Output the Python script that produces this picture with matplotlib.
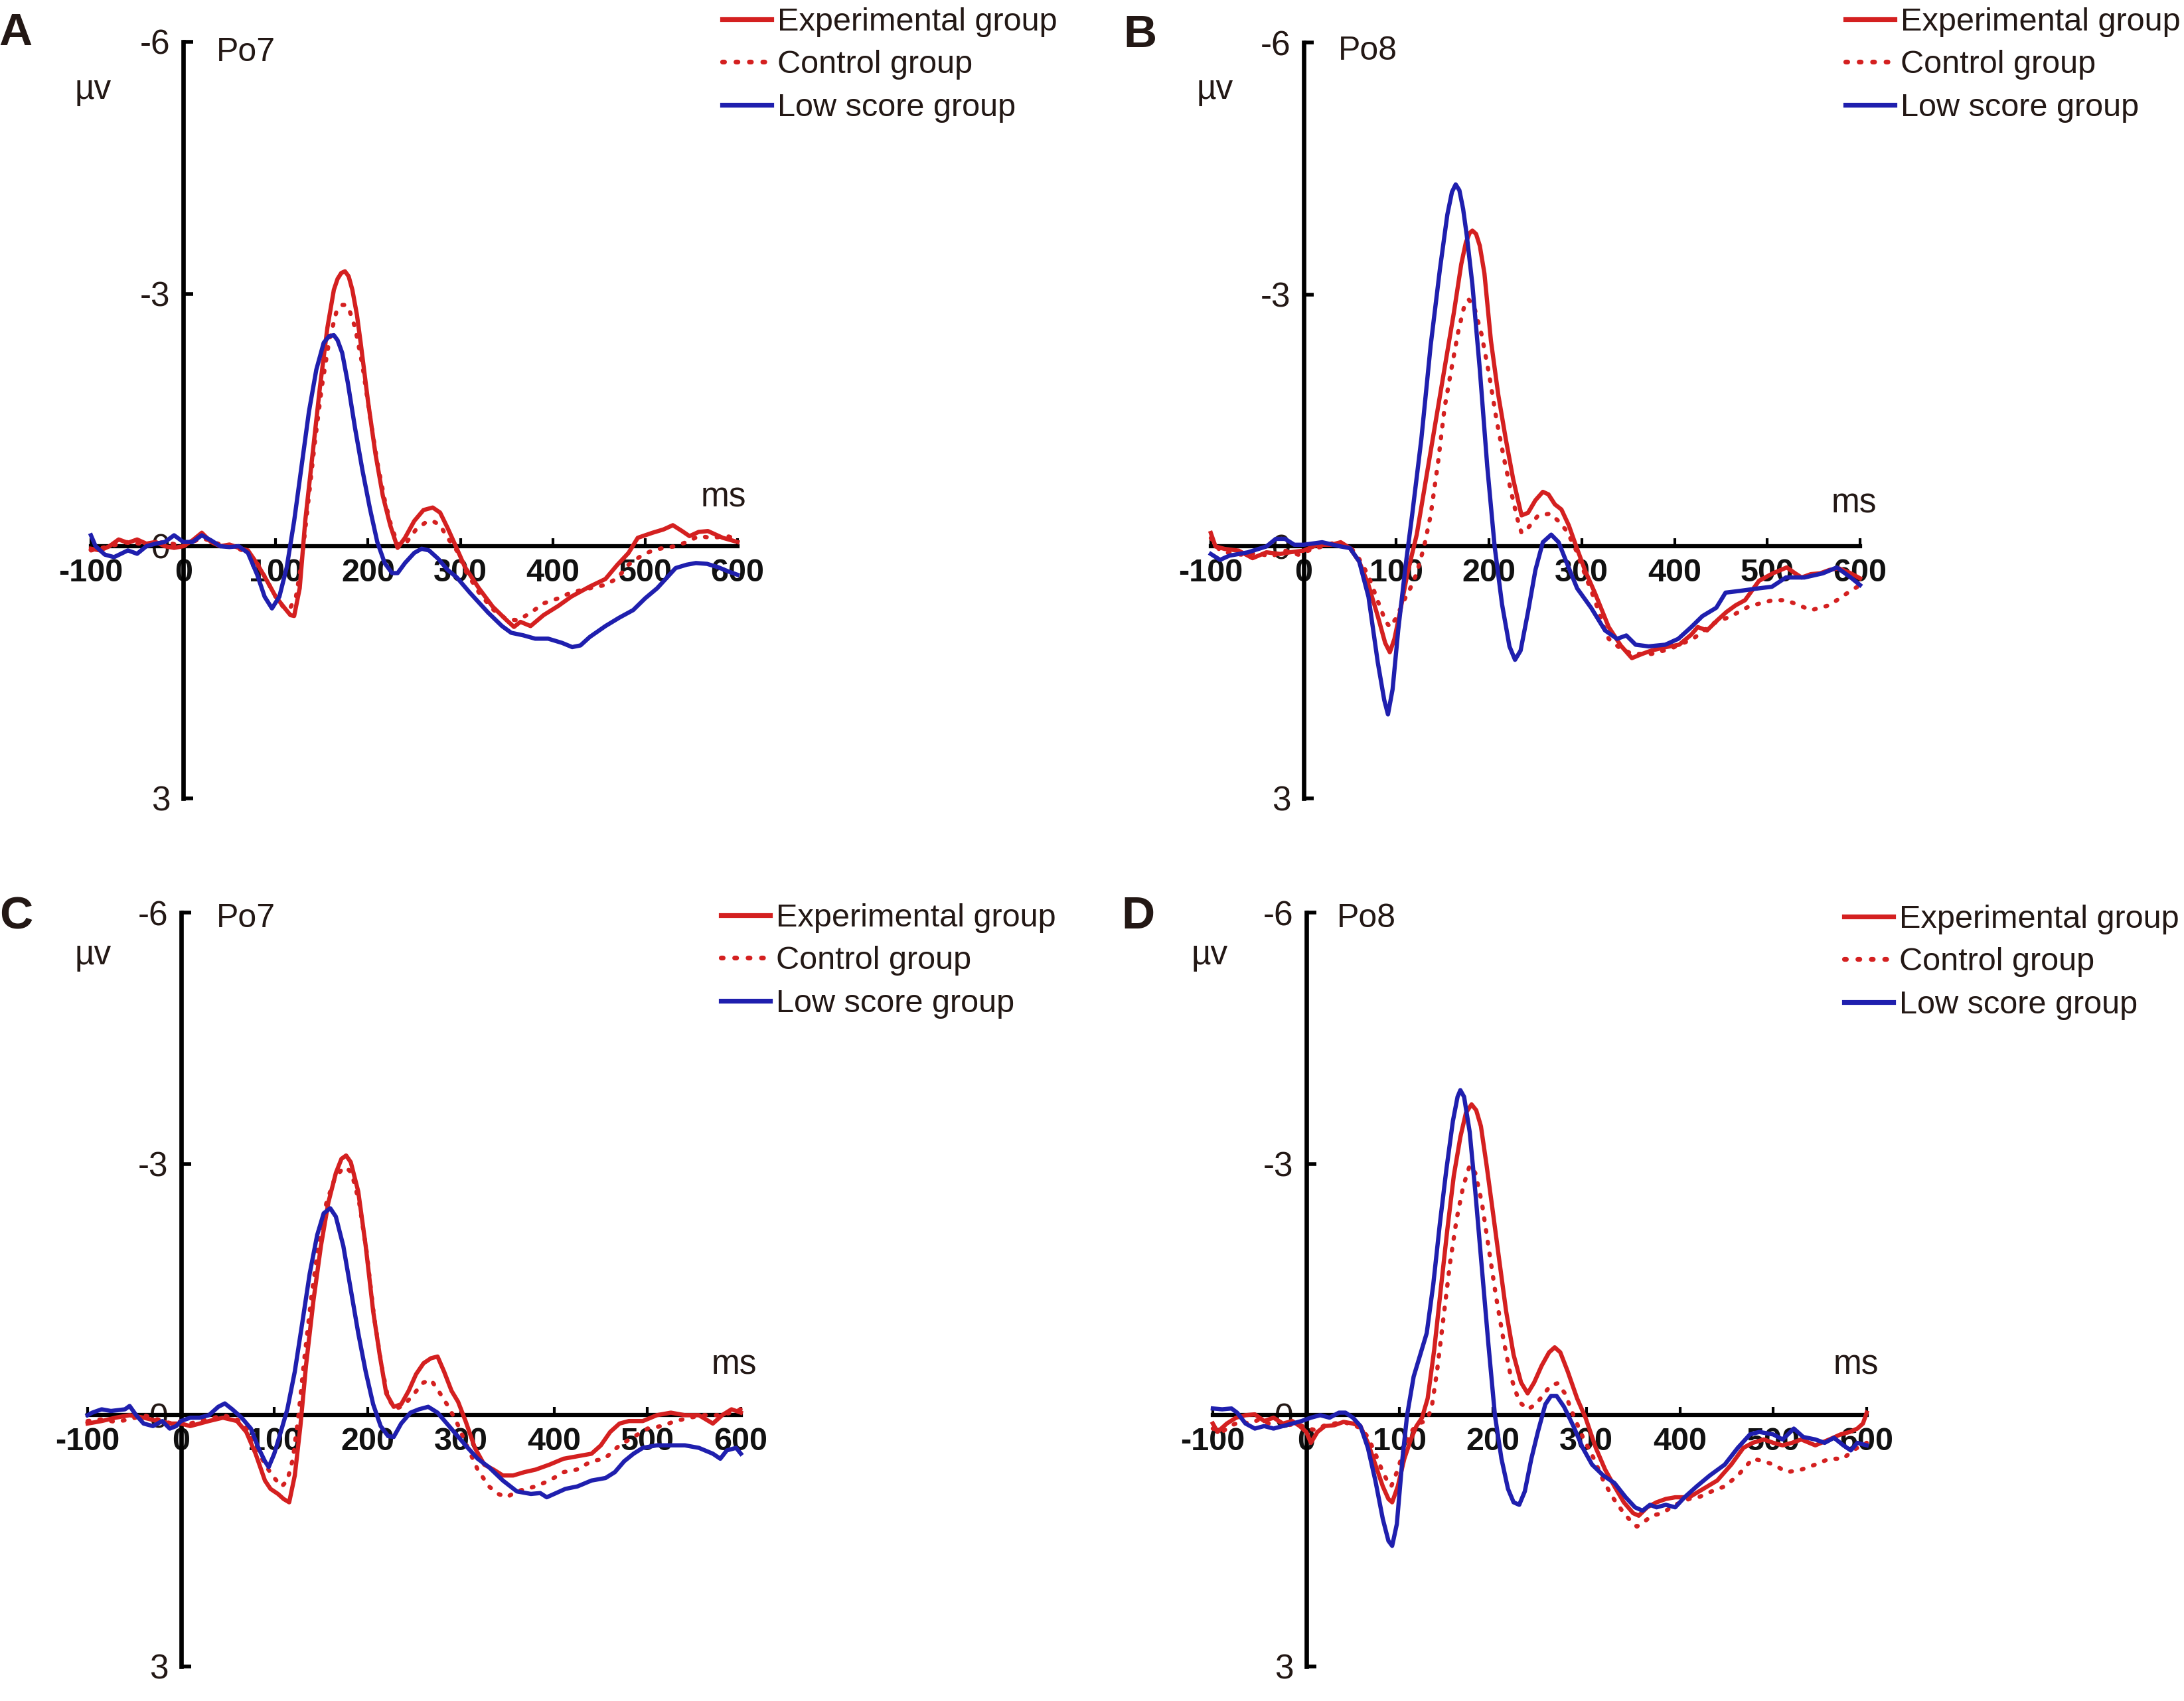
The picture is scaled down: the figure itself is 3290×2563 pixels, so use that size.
import matplotlib
matplotlib.use("Agg")
from matplotlib import pyplot as plt
import numpy as np

# Размер картинки в пикселях
W, H = 3291, 2563

RED = '#d42020'
BLUE = '#1f1fae'
INK = '#231815'

plt.rcParams['font.family'] = ['Liberation Sans', 'DejaVu Sans']

TIME_TICKS = [-100, 0, 100, 200, 300, 400, 500, 600]
TIME_LABELS = ['-100', '0', '100', '200', '300', '400', '500', '600']
UV_TICKS = [-6, -3, 0, 3]
UV_LABELS = ['-6', '-3', '0', '3']
GROUPS = ['Experimental group', 'Control group', 'Low score group']

# (ms, µV)
A_EXP = [(-100, 0.03), (-90, 0.05), (-80, 0.0), (-70, -0.08), (-60, -0.04), (-50, -0.08), (-40, -0.03),
         (-30, -0.05), (-20, 0.0), (-10, 0.02), (0, 0.0), (10, -0.07), (20, -0.16), (30, -0.05), (40, 0.0),
         (50, -0.02), (60, 0.02), (70, 0.05), (80, 0.21), (90, 0.4), (100, 0.6), (110, 0.74), (116, 0.82),
         (120, 0.83), (126, 0.5), (132, -0.3), (140, -1.1), (148, -1.9), (156, -2.6), (163, -3.05), (167, -3.18),
         (171, -3.25), (175, -3.27), (179, -3.21), (183, -3.05), (188, -2.75), (192, -2.42), (200, -1.72),
         (208, -1.1), (216, -0.6), (224, -0.25), (232, 0.02), (240, -0.1), (250, -0.3), (260, -0.43), (270, -0.46),
         (278, -0.4), (286, -0.22), (295, 0.0), (305, 0.25), (320, 0.5), (335, 0.72), (350, 0.88), (358, 0.96),
         (365, 0.9), (376, 0.95), (390, 0.82), (406, 0.71), (420, 0.6), (440, 0.48), (457, 0.39), (470, 0.22),
         (482, 0.08), (492, -0.1), (508, -0.16), (520, -0.2), (530, -0.25), (540, -0.18), (548, -0.12),
         (558, -0.17), (568, -0.18), (584, -0.1), (600, -0.05)]
A_CTL = [(-100, 0.05), (-80, 0.0), (-60, -0.05), (-40, -0.02), (-20, -0.05), (0, 0.0), (20, -0.1), (40, -0.02),
         (60, 0.03), (70, 0.08), (80, 0.2), (90, 0.4), (100, 0.6), (108, 0.72), (115, 0.75), (122, 0.6),
         (128, 0.2), (134, -0.4), (142, -1.2), (150, -1.9), (158, -2.45), (166, -2.8), (172, -2.87), (176, -2.87),
         (180, -2.8), (186, -2.6), (194, -2.15), (202, -1.55), (210, -1.0), (218, -0.55), (226, -0.2), (234, 0.0),
         (242, -0.05), (252, -0.2), (262, -0.28), (270, -0.3), (278, -0.25), (286, -0.1), (296, 0.05),
         (306, 0.3), (320, 0.55), (335, 0.75), (350, 0.87), (362, 0.88), (375, 0.8), (390, 0.68), (406, 0.62),
         (420, 0.55), (440, 0.5), (457, 0.46), (470, 0.38), (482, 0.22), (495, 0.12), (508, 0.05), (520, 0.02),
         (533, 0.0), (545, -0.05), (558, -0.12), (572, -0.1), (589, -0.12), (600, -0.08)]
A_LOW = [(-100, -0.13), (-95, 0.0), (-85, 0.1), (-75, 0.13), (-60, 0.05), (-50, 0.09), (-40, 0.0), (-30, -0.03),
         (-20, -0.05), (-10, -0.13), (0, -0.05), (10, -0.05), (20, -0.13), (30, -0.07), (40, 0.0), (50, 0.01),
         (60, 0.0), (70, 0.08), (80, 0.34), (88, 0.6), (96, 0.74), (104, 0.6), (112, 0.25), (120, -0.3),
         (128, -0.95), (136, -1.6), (144, -2.1), (152, -2.42), (158, -2.5), (163, -2.51), (167, -2.45),
         (172, -2.3), (178, -1.95), (186, -1.4), (194, -0.9), (202, -0.45), (210, -0.05), (218, 0.2), (226, 0.32),
         (232, 0.32), (240, 0.2), (250, 0.08), (258, 0.03), (266, 0.05), (276, 0.15), (286, 0.28), (296, 0.37),
         (310, 0.55), (330, 0.79), (345, 0.95), (355, 1.03), (368, 1.06), (381, 1.1), (395, 1.1), (410, 1.15),
         (421, 1.2), (430, 1.18), (440, 1.08), (457, 0.95), (472, 0.85), (487, 0.76), (500, 0.62), (513, 0.5),
         (523, 0.38), (533, 0.26), (545, 0.22), (555, 0.2), (567, 0.21), (579, 0.25), (590, 0.3), (600, 0.34)]

B_EXP = [(-100, -0.16), (-95, 0.0), (-85, 0.03), (-70, 0.05), (-55, 0.14), (-40, 0.07), (-25, 0.09),
         (-15, 0.07), (0, 0.05), (15, -0.02), (30, -0.02), (40, -0.05), (50, 0.02), (60, 0.18), (70, 0.46),
         (80, 0.83), (88, 1.15), (93, 1.26), (98, 1.1), (104, 0.78), (112, 0.32), (122, -0.14), (132, -0.8),
         (142, -1.46), (152, -2.12), (162, -2.78), (170, -3.36), (175, -3.62), (179, -3.73), (182, -3.76),
         (186, -3.72), (190, -3.58), (195, -3.25), (202, -2.45), (210, -1.8), (218, -1.28), (226, -0.8),
         (235, -0.37), (242, -0.4), (250, -0.55), (258, -0.65), (264, -0.62), (271, -0.5), (278, -0.44),
         (286, -0.25), (294, 0.0), (304, 0.3), (314, 0.55), (329, 0.96), (342, 1.18), (354, 1.33), (365, 1.28),
         (375, 1.24), (390, 1.2), (405, 1.17), (418, 1.05), (425, 0.96), (435, 1.0), (446, 0.88), (456, 0.78),
         (466, 0.7), (476, 0.64), (491, 0.41), (506, 0.32), (521, 0.25), (530, 0.32), (537, 0.37), (547, 0.33),
         (557, 0.32), (567, 0.28), (577, 0.26), (590, 0.32), (600, 0.38)]
B_CTL = [(-100, -0.1), (-90, 0.05), (-80, 0.08), (-65, 0.1), (-50, 0.08), (-35, 0.12), (-20, 0.05), (-5, 0.1),
         (5, 0.05), (20, 0.0), (35, -0.05), (50, 0.0), (60, 0.15), (70, 0.35), (80, 0.65), (88, 0.88), (93, 0.96),
         (100, 0.85), (108, 0.65), (115, 0.5), (122, 0.32), (130, 0.0), (137, -0.37), (145, -1.0), (152, -1.65),
         (160, -2.15), (167, -2.57), (173, -2.85), (178, -2.94), (184, -2.85), (192, -2.52), (200, -2.05),
         (208, -1.51), (216, -1.05), (223, -0.69), (230, -0.35), (235, -0.16), (242, -0.22), (253, -0.37),
         (266, -0.39), (275, -0.3), (284, -0.18), (294, 0.05), (304, 0.35), (314, 0.64), (322, 0.9), (329, 1.1),
         (340, 1.2), (354, 1.28), (375, 1.28), (395, 1.22), (420, 1.1), (441, 0.92), (461, 0.83), (481, 0.71),
         (506, 0.64), (520, 0.64), (532, 0.69), (547, 0.76), (567, 0.7), (587, 0.55), (600, 0.46)]
B_LOW = [(-100, 0.09), (-90, 0.16), (-80, 0.11), (-60, 0.07), (-40, 0.0), (-30, -0.09), (-20, -0.09),
         (-10, -0.02), (0, -0.02), (20, -0.05), (40, 0.0), (50, 0.02), (60, 0.18), (70, 0.6), (80, 1.38),
         (87, 1.83), (91, 2.0), (96, 1.7), (102, 1.0), (110, 0.23), (117, -0.37), (127, -1.28), (137, -2.39),
         (147, -3.3), (155, -3.95), (160, -4.22), (164, -4.31), (168, -4.24), (172, -4.02), (176, -3.7),
         (182, -3.12), (190, -2.11), (198, -0.96), (206, 0.0), (214, 0.69), (222, 1.19), (228, 1.35), (234, 1.24),
         (242, 0.78), (250, 0.28), (258, -0.05), (267, -0.14), (275, -0.05), (285, 0.23), (295, 0.5), (310, 0.73),
         (325, 1.0), (338, 1.1), (348, 1.06), (358, 1.17), (372, 1.19), (390, 1.17), (404, 1.1), (418, 0.96),
         (430, 0.83), (445, 0.73), (455, 0.55), (470, 0.53), (490, 0.5), (505, 0.48), (520, 0.37), (540, 0.37),
         (560, 0.32), (575, 0.25), (590, 0.37), (600, 0.46)]

C_EXP = [(-100, 0.1), (-85, 0.07), (-70, 0.03), (-55, 0.0), (-40, 0.03), (-25, 0.07), (-10, 0.1), (0, 0.1),
         (10, 0.13), (20, 0.1), (30, 0.07), (45, 0.03), (60, 0.07), (70, 0.2), (80, 0.46), (90, 0.78), (96, 0.88),
         (104, 0.94), (110, 1.0), (116, 1.04), (122, 0.72), (128, 0.13), (134, -0.59), (142, -1.37),
         (150, -2.02), (158, -2.54), (166, -2.89), (172, -3.06), (177, -3.1), (182, -3.02), (190, -2.67),
         (198, -2.02), (206, -1.24), (213, -0.72), (220, -0.26), (228, -0.1), (236, -0.13), (244, -0.29),
         (252, -0.49), (260, -0.62), (268, -0.68), (275, -0.7), (282, -0.52), (290, -0.29), (297, -0.16),
         (305, 0.07), (315, 0.39), (325, 0.59), (335, 0.65), (345, 0.72), (356, 0.72), (368, 0.68), (380, 0.65),
         (395, 0.59), (410, 0.52), (425, 0.49), (440, 0.46), (450, 0.36), (460, 0.2), (470, 0.1), (480, 0.07),
         (495, 0.07), (510, 0.0), (525, -0.03), (540, 0.0), (555, 0.0), (570, 0.1), (580, 0.0), (590, -0.07),
         (600, -0.03)]
C_CTL = [(-100, 0.07), (-85, 0.05), (-70, 0.08), (-55, 0.05), (-40, 0.0), (-25, 0.05), (-10, 0.1), (0, 0.07),
         (10, 0.1), (20, 0.07), (30, 0.05), (45, 0.0), (60, 0.05), (70, 0.15), (80, 0.36), (90, 0.59), (100, 0.75),
         (108, 0.85), (114, 0.78), (120, 0.52), (126, 0.0), (132, -0.65), (140, -1.43), (148, -2.08),
         (156, -2.54), (164, -2.8), (172, -2.93), (177, -2.96), (183, -2.89), (191, -2.54), (199, -1.95),
         (207, -1.17), (215, -0.59), (222, -0.2), (230, -0.07), (240, -0.13), (250, -0.26), (260, -0.39),
         (268, -0.42), (276, -0.29), (285, -0.13), (295, 0.07), (305, 0.33), (318, 0.65), (330, 0.85),
         (340, 0.94), (349, 0.98), (360, 0.91), (370, 0.88), (380, 0.85), (395, 0.78), (410, 0.68), (424, 0.65),
         (440, 0.55), (454, 0.52), (470, 0.36), (485, 0.26), (500, 0.16), (515, 0.13), (530, 0.07), (545, 0.03),
         (560, 0.0), (575, 0.0), (590, -0.03), (600, -0.07)]
C_LOW = [(-100, 0.0), (-95, -0.03), (-85, -0.07), (-75, -0.05), (-60, -0.07), (-55, -0.11), (-48, 0.0),
         (-40, 0.1), (-30, 0.13), (-20, 0.07), (-12, 0.16), (-5, 0.13), (0, 0.07), (10, 0.03), (20, 0.03),
         (30, 0.0), (40, -0.1), (47, -0.14), (55, -0.07), (65, 0.03), (75, 0.16), (83, 0.39), (90, 0.55),
         (94, 0.62), (100, 0.46), (107, 0.2), (114, -0.07), (122, -0.52), (130, -1.1), (138, -1.69),
         (146, -2.15), (153, -2.41), (160, -2.47), (166, -2.37), (174, -2.02), (182, -1.5), (190, -0.98),
         (198, -0.52), (206, -0.13), (214, 0.13), (222, 0.25), (228, 0.26), (236, 0.1), (246, -0.03),
         (255, -0.07), (265, -0.1), (275, -0.03), (285, 0.1), (295, 0.23), (305, 0.36), (318, 0.52), (330, 0.62),
         (345, 0.78), (360, 0.91), (375, 0.94), (385, 0.93), (392, 0.98), (400, 0.94), (412, 0.88), (425, 0.85),
         (440, 0.78), (455, 0.75), (465, 0.68), (475, 0.55), (485, 0.46), (495, 0.39), (510, 0.36), (525, 0.36),
         (540, 0.36), (555, 0.39), (570, 0.46), (578, 0.52), (585, 0.42), (595, 0.39), (600, 0.46)]

D_EXP = [(-100, 0.1), (-95, 0.2), (-85, 0.1), (-75, 0.03), (-65, 0.0), (-55, -0.01), (-45, 0.07), (-35, 0.03),
         (-25, 0.1), (-15, 0.07), (-7, 0.13), (0, 0.2), (5, 0.33), (12, 0.2), (20, 0.13), (30, 0.12), (40, 0.08),
         (50, 0.1), (58, 0.13), (66, 0.33), (74, 0.59), (82, 0.85), (88, 1.0), (92, 1.04), (98, 0.85),
         (105, 0.52), (112, 0.29), (118, 0.13), (124, 0.03), (130, -0.2), (137, -0.78), (144, -1.5),
         (151, -2.21), (158, -2.86), (165, -3.32), (171, -3.61), (177, -3.71), (182, -3.64), (187, -3.45),
         (193, -2.99), (200, -2.41), (207, -1.82), (214, -1.24), (222, -0.72), (230, -0.39), (237, -0.26),
         (244, -0.39), (252, -0.59), (260, -0.75), (266, -0.81), (272, -0.75), (280, -0.52), (290, -0.2),
         (299, 0.03), (310, 0.39), (320, 0.65), (330, 0.85), (340, 1.04), (350, 1.17), (356, 1.2), (365, 1.1),
         (375, 1.04), (385, 1.0), (395, 0.98), (410, 0.98), (425, 0.88), (440, 0.78), (455, 0.59), (468, 0.39),
         (478, 0.33), (490, 0.29), (500, 0.33), (510, 0.36), (520, 0.33), (530, 0.29), (545, 0.36), (560, 0.29),
         (572, 0.23), (582, 0.2), (590, 0.16), (596, 0.1), (600, -0.03)]
D_CTL = [(-100, 0.16), (-90, 0.2), (-80, 0.12), (-70, 0.08), (-60, 0.1), (-50, 0.05), (-40, 0.1), (-30, 0.07),
         (-20, 0.12), (-10, 0.1), (0, 0.15), (10, 0.18), (20, 0.12), (30, 0.1), (40, 0.08), (50, 0.12),
         (58, 0.15), (66, 0.26), (74, 0.46), (82, 0.68), (88, 0.81), (91, 0.85), (98, 0.65), (105, 0.39),
         (112, 0.2), (120, 0.1), (128, 0.07), (134, -0.07), (140, -0.52), (147, -1.17), (154, -1.82),
         (161, -2.34), (168, -2.73), (175, -2.98), (181, -2.89), (188, -2.54), (195, -2.02), (203, -1.43),
         (211, -0.91), (219, -0.46), (228, -0.16), (237, -0.07), (246, -0.13), (255, -0.26), (262, -0.36),
         (269, -0.38), (277, -0.26), (286, 0.0), (296, 0.26), (308, 0.52), (318, 0.78), (328, 0.98), (340, 1.17),
         (348, 1.27), (354, 1.33), (362, 1.27), (370, 1.2), (381, 1.17), (395, 1.07), (410, 1.0), (420, 0.98),
         (434, 0.91), (448, 0.85), (462, 0.72), (478, 0.52), (490, 0.55), (500, 0.59), (515, 0.68), (530, 0.65),
         (545, 0.59), (560, 0.52), (575, 0.52), (585, 0.42), (600, 0.33)]
D_LOW = [(-100, -0.08), (-90, -0.07), (-80, -0.08), (-74, -0.03), (-65, 0.1), (-55, 0.16), (-45, 0.13),
         (-35, 0.16), (-25, 0.13), (-15, 0.1), (-5, 0.07), (5, 0.03), (15, 0.0), (25, 0.03), (35, -0.03),
         (42, -0.03), (50, 0.03), (58, 0.13), (66, 0.39), (74, 0.78), (82, 1.24), (88, 1.5), (92, 1.56),
         (97, 1.3), (103, 0.52), (108, 0.0), (115, -0.46), (122, -0.72), (129, -0.98), (136, -1.56),
         (143, -2.28), (150, -2.93), (157, -3.51), (162, -3.8), (165, -3.88), (169, -3.8), (175, -3.38),
         (181, -2.67), (188, -1.76), (195, -0.85), (202, 0.0), (209, 0.52), (216, 0.88), (222, 1.04), (228, 1.07),
         (234, 0.91), (241, 0.52), (248, 0.2), (256, -0.13), (262, -0.23), (268, -0.23), (276, -0.1), (286, 0.13),
         (296, 0.39), (306, 0.59), (318, 0.72), (330, 0.81), (342, 0.98), (352, 1.1), (360, 1.14), (368, 1.07),
         (375, 1.1), (385, 1.07), (395, 1.1), (405, 0.98), (418, 0.85), (432, 0.72), (448, 0.59), (462, 0.39),
         (475, 0.23), (485, 0.2), (500, 0.23), (510, 0.29), (522, 0.16), (532, 0.26), (545, 0.29), (555, 0.33),
         (565, 0.27), (575, 0.36), (583, 0.42), (590, 0.33), (600, 0.36)]


def px(x, y):
    """пиксели картинки -> доли фигуры"""
    return x / W, 1 - y / H


# letter, electrode, axes box (x of -100, x of 600, y of -6, y of 3),
# letter xy, µv xy, electrode xy, ms xy, legend top-left
PANELS = [
    ('A', 'Po7', (137, 1111, 63, 1203), (A_EXP, A_CTL, A_LOW),
     (23, 50), (140, 135), (370, 79), (1090, 750), (1088, 11)),
    ('B', 'Po8', (1824, 2802, 64, 1203), (B_EXP, B_CTL, B_LOW),
     (1717, 53), (1830, 135), (2060, 77), (2793, 759), (2780, 11)),
    ('C', 'Po7', (132, 1116, 1375, 2511), (C_EXP, C_CTL, C_LOW),
     (24, 1381), (140, 1440), (370, 1384), (1106, 2057), (1086, 1361)),
    ('D', 'Po8', (1827, 2812, 1375, 2511), (D_EXP, D_CTL, D_LOW),
     (1714, 1381), (1822, 1440), (2058, 1384), (2796, 2057), (2778, 1363)),
]

fig = plt.figure(figsize=(W / 100, H / 100), dpi=100)

for letter, site, box, series, p_let, p_uv, p_site, p_ms, p_leg in PANELS:
    x0, x1, y0, y1 = box
    ax = fig.add_axes([x0 / W, 1 - y1 / H, (x1 - x0) / W, (y1 - y0) / H])
    ax.patch.set_alpha(0)

    styles = [dict(color=RED, ls='-'),
              dict(color=RED, ls=(0, (0.4, 2.4)), dash_capstyle='round'),
              dict(color=BLUE, ls='-')]
    for data, st, name in zip(series, styles, GROUPS):
        arr = np.array(data)
        ax.plot(arr[:, 0], arr[:, 1], lw=4.6, label=name, zorder=3, clip_on=False,
                solid_joinstyle='round', **st)

    ax.set_xlim(-100, 600)
    ax.set_ylim(3, -6)  # negative up

    """Оси через ноль"""
    for s in ['top', 'right']:
        ax.spines[s].set_visible(False)
    ax.spines['left'].set_position(('data', 0))
    ax.spines['bottom'].set_position(('data', 0))
    ax.spines['left'].set_linewidth(4.8)
    ax.spines['bottom'].set_linewidth(4.5)

    ax.set_xticks(TIME_TICKS)
    ax.set_xticklabels(TIME_LABELS, fontsize=35, fontweight='bold', color='#111111')
    ax.set_yticks(UV_TICKS)
    ax.set_yticklabels(UV_LABELS, fontsize=37, color=INK)
    ax.tick_params(axis='x', direction='in', length=9, width=3, pad=13)
    ax.tick_params(axis='y', direction='in', length=11, width=4, pad=14)

    fig.text(*px(*p_let), letter, fontsize=50, fontweight='bold', color=INK, ha='center', va='center')
    fig.text(*px(*p_uv), 'µv', fontsize=37, color=INK, ha='center', va='center')
    fig.text(*px(*p_site), site, fontsize=36, color=INK, ha='center', va='center')
    fig.text(*px(*p_ms), 'ms', fontsize=37, color=INK, ha='center', va='center')

    leg = ax.legend(loc='upper left', bbox_to_anchor=px(*p_leg), bbox_transform=fig.transFigure,
                    frameon=False, prop=dict(size=35), handlelength=1.52,
                    handletextpad=0.18, labelspacing=0.4, borderpad=0, borderaxespad=0)
    for t in leg.get_texts():
        t.set_color(INK)
    for ln in leg.get_lines():
        ln.set_linewidth(5.2)

fig.savefig('out.png', dpi=100)
